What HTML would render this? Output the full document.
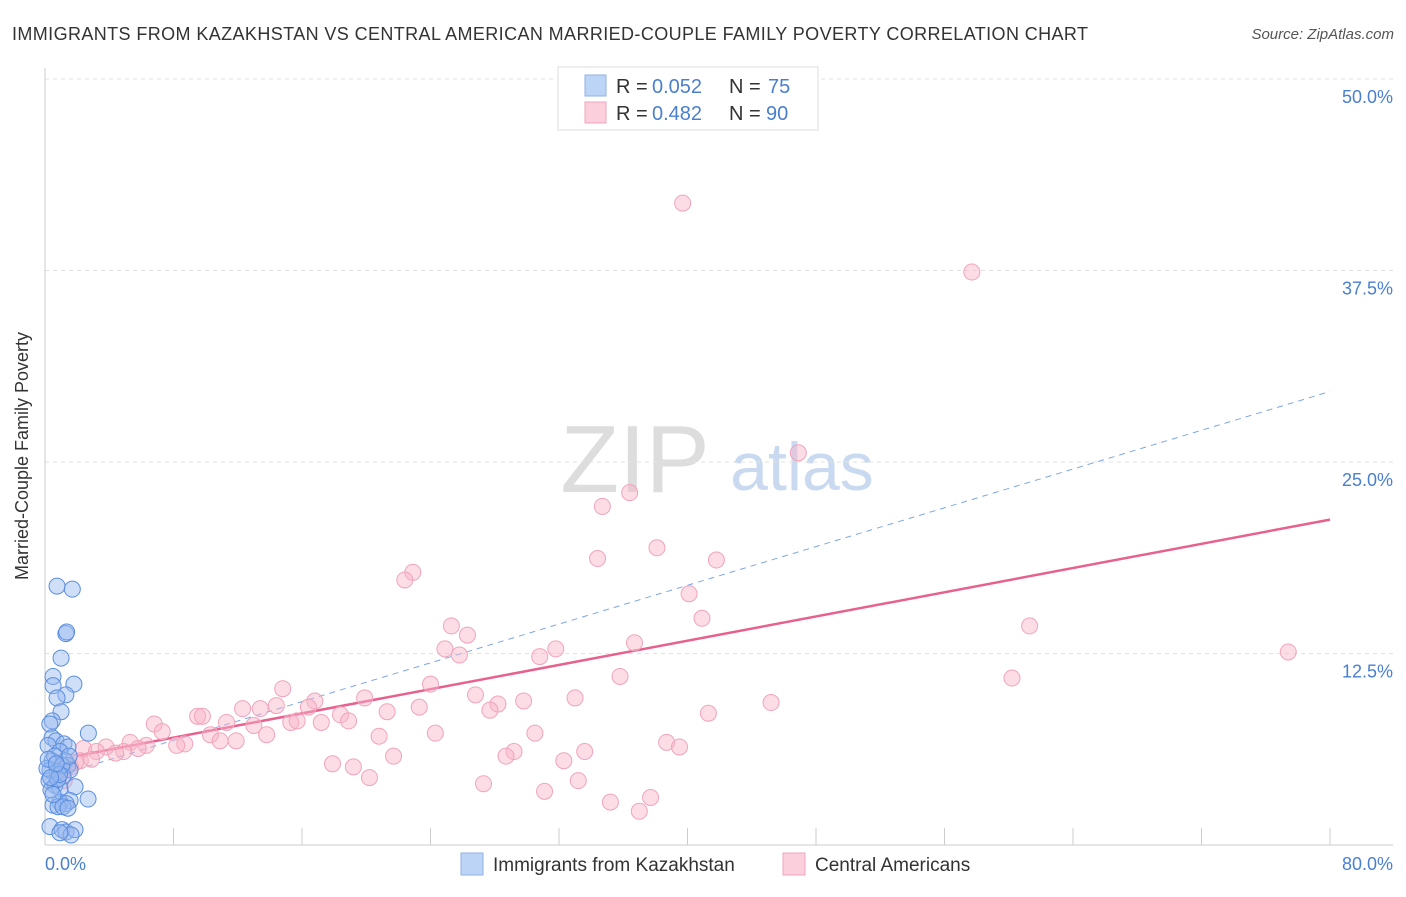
<!DOCTYPE html>
<html><head><meta charset="utf-8"><style>
body{margin:0;background:#fff;font-family:"Liberation Sans",sans-serif}
svg text{font-family:"Liberation Sans",sans-serif}
</style></head><body>
<svg id="chart" width="1406" height="892">
<text x="12" y="40" font-size="18" fill="#333" textLength="1076" lengthAdjust="spacing">IMMIGRANTS FROM KAZAKHSTAN VS CENTRAL AMERICAN MARRIED-COUPLE FAMILY POVERTY CORRELATION CHART</text>
<text x="1394" y="39" font-size="15" fill="#555" font-style="italic" text-anchor="end">Source: ZipAtlas.com</text>
<g><text x="635" y="492" font-size="96" fill="#ddd" font-family="Liberation Serif" text-anchor="middle">ZIP</text><text x="802" y="490" font-size="68" fill="#c9daf0" text-anchor="middle">atlas</text></g>
<g id="grid"></g>
<line x1="45" y1="68" x2="45" y2="845" stroke="#ccc"/>
<line x1="45" y1="845" x2="1393" y2="845" stroke="#ccc"/>
<text x="28" y="456" font-size="18" fill="#333" text-anchor="middle" transform="rotate(-90 28 456)">Married-Couple Family Poverty</text>
<text x="45" y="870" font-size="18" fill="#4a7fd0">0.0%</text>
<text x="1393" y="870" font-size="18" fill="#4a7fd0" text-anchor="end">80.0%</text>
<g id="lines"></g>
<g id="pts"></g>
<g>
<rect x="558" y="67" width="260" height="63" fill="#fff" stroke="#ddd"/>
<rect x="585" y="75" width="21" height="21" fill="#bcd4f5" stroke="#8fb3e6"/>
<rect x="585" y="102" width="21" height="21" fill="#fbcfdc" stroke="#f0a4bb"/>
<text x="616" y="93" font-size="20" fill="#333">R = </text><text x="652" y="93" font-size="20" fill="#4a7fd0">0.052</text>
<text x="729" y="93" font-size="20" fill="#333">N = </text><text x="768" y="93" font-size="20" fill="#4a7fd0">75</text>
<text x="616" y="120" font-size="20" fill="#333">R = </text><text x="652" y="120" font-size="20" fill="#4a7fd0">0.482</text>
<text x="729" y="120" font-size="20" fill="#333">N = </text><text x="766" y="120" font-size="20" fill="#4a7fd0">90</text>
</g>
<g>
<rect x="461" y="853" width="22" height="22" fill="#bcd4f5" stroke="#8fb3e6"/>
<text x="493" y="871" font-size="19" fill="#333">Immigrants from Kazakhstan</text>
<rect x="783" y="853" width="22" height="22" fill="#fbcfdc" stroke="#f0a4bb"/>
<text x="815" y="871" font-size="19" fill="#333">Central Americans</text>
</g>
</svg>
<script>
const yTicks=[12.5,25,37.5,50];
const yTickLabels=["12.5%","25.0%","37.5%","50.0%"];
const xTicks=[8,16,24,32,40,48,56,64,72,80];
const blueX=[0.75,1.7,1.3,1.35,1.0,0.5,1.8,0.5,1.3,0.75,1.0,0.45,0.3,2.7,0.44,0.68,1.18,1.43,0.19,0.93,0.44,1.25,1.43,0.31,0.75,1.56,1.12,0.25,0.62,0.93,1.87,0.37,2.68,1.56,0.93,1.31,0.5,0.81,1.12,1.43,0.31,1.06,1.31,1.87,1.62,0.93,0.6,1.05,0.12,0.81,0.5,0.2,0.9,1.5,0.35,0.7];
const blueY=[16.9,16.7,13.8,13.9,12.2,11.0,10.5,10.4,9.8,9.6,8.7,8.1,7.9,7.3,7.0,6.8,6.6,6.4,6.5,6.1,5.5,5.5,5.2,4.9,4.8,4.9,4.5,4.2,3.9,3.7,3.8,3.6,3.0,2.9,2.8,2.7,2.6,2.5,2.5,2.4,1.2,1.0,0.85,1.0,0.65,0.8,5.8,5.2,5.0,4.3,3.3,5.6,4.6,5.8,4.4,5.3];
const pinkX=[39.7,57.7,46.9,36.4,34.7,38.1,34.4,41.8,22.9,22.4,40.1,40.9,25.3,61.3,26.3,36.7,24.9,31.8,25.8,30.8,77.4,35.8,60.2,24.0,14.8,26.8,19.9,33.0,29.8,16.8,28.2,45.2,12.3,14.4,16.4,23.3,27.7,13.4,9.5,9.8,18.4,21.3,41.3,6.8,11.3,15.3,15.7,17.2,18.9,7.3,13.0,10.3,24.3,30.5,13.8,20.8,11.9,8.7,8.2,6.3,10.9,38.7,39.5,5.3,5.8,4.9,3.8,4.4,2.4,3.2,2.2,2.9,21.7,29.2,28.7,33.6,17.9,32.3,19.2,1.6,20.2,27.3,33.2,31.1,37.7,35.2,37.0,1.1,1.2,1.9];
const pinkY=[41.9,37.4,25.6,23.0,22.1,19.4,18.7,18.6,17.8,17.3,16.4,14.8,14.3,14.3,13.7,13.2,12.8,12.8,12.4,12.3,12.6,11.0,10.9,10.5,10.2,9.8,9.6,9.6,9.4,9.4,9.2,9.3,8.9,9.1,9.0,9.0,8.8,8.9,8.4,8.4,8.5,8.7,8.6,7.9,8.0,8.0,8.1,8.0,8.1,7.4,7.8,7.2,7.3,7.3,7.2,7.1,6.8,6.6,6.5,6.5,6.8,6.7,6.4,6.7,6.3,6.1,6.4,6.0,6.3,6.1,5.5,5.6,5.8,6.1,5.8,6.1,5.3,5.5,5.1,5.1,4.4,4.0,4.2,3.5,3.1,2.8,2.2,4.8,4.2,5.4];
const pinkTrend=[5.43,21.24];
const blueTrend=[4.3,29.6];
const X=v=>45+v*(1285/80), Y=v=>845-v*(766/50);
const NS="http://www.w3.org/2000/svg";
function mk(tag,attrs,parent){const e=document.createElementNS(NS,tag);for(const k in attrs)e.setAttribute(k,attrs[k]);parent.appendChild(e);return e;}
const grid=document.getElementById('grid');
yTicks.forEach((t,i)=>{
 const l=mk('line',{x1:45,x2:1393,y1:Y(t),y2:Y(t),stroke:'#e2e2e2','stroke-dasharray':'4,4'},grid);
 
 
 const tx=mk('text',{x:1393,y:Y(t)+24,'font-size':18,fill:'#4a7fd0','text-anchor':'end'},grid);
 tx.textContent=yTickLabels[i];
 
 
});
xTicks.forEach(t=>{
 const l=mk('line',{x1:X(t),x2:X(t),y1:828,y2:845,stroke:'#ccc'},grid);
 
 
});
const pts=document.getElementById('pts');
pinkX.forEach((v,i)=>{
 const c=mk('circle',{cx:X(v),cy:Y(pinkY[i]),r:8,fill:'rgba(248,180,200,0.45)',stroke:'#f0a4bb','stroke-width':1},pts);
 
 
});
blueX.forEach((v,i)=>{
 const c=mk('circle',{cx:X(v),cy:Y(blueY[i]),r:8,fill:'rgba(150,185,240,0.45)',stroke:'#5b8ede','stroke-width':1},pts);
 
 
});
const lines=document.getElementById('lines');
const bl=mk('line',{x1:X(0),y1:Y(blueTrend[0]),x2:X(80),y2:Y(blueTrend[1]),stroke:'#7fa6e3','stroke-width':1,'stroke-dasharray':'6,5'},lines);


const pl=mk('line',{x1:X(2),y1:Y(pinkTrend[0]+(pinkTrend[1]-pinkTrend[0])*2/80),x2:X(80),y2:Y(pinkTrend[1]),stroke:'#e8608e','stroke-width':2.5},lines);


</script>
</body></html>
